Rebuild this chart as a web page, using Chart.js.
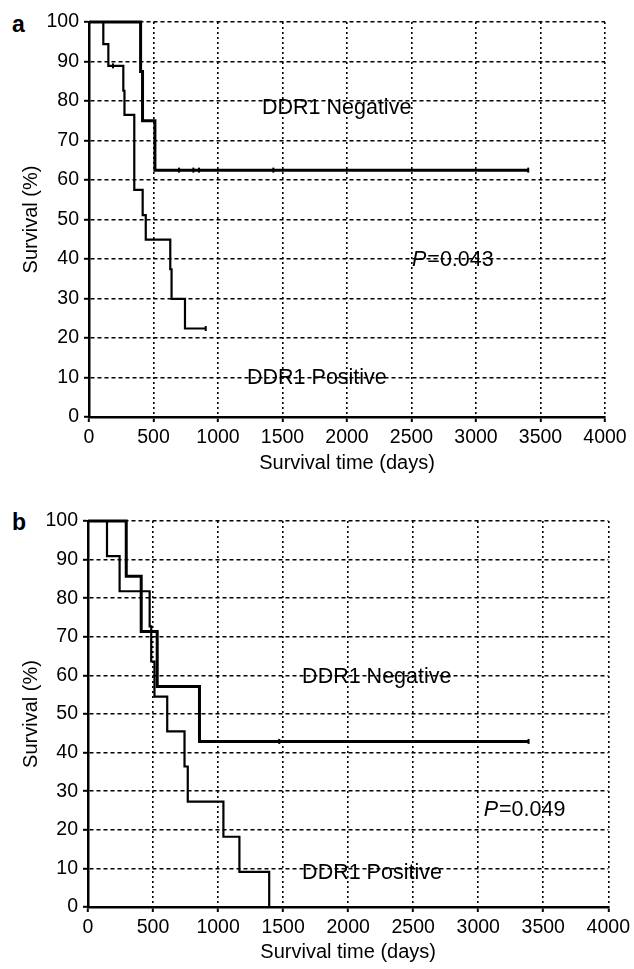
<!DOCTYPE html>
<html>
<head>
<meta charset="utf-8">
<script src="https://cdn.jsdelivr.net/npm/chart.js@4.4.1/dist/chart.umd.min.js"></script>
<style>
body { margin:0; background:#fff; width:634px; height:969px; position:relative; overflow:hidden; font-family:'Liberation Sans', Arial, sans-serif; }
canvas { position:absolute; left:0; }
#chartA { top:0; }
#chartB { top:480px; }
.panel { position:absolute; left:12px; font-weight:bold; font-size:23px; color:#000; }
</style>
</head>
<body>
<div class="panel" style="top:11px">a</div>
<canvas id="chartA" width="634" height="480"></canvas>
<div class="panel" style="top:509px">b</div>
<canvas id="chartB" width="634" height="489"></canvas>
<script>
// panel a - survival steps (days, %)
const negADays = [0, 400, 415, 511, 3405];
const negASurv = [100, 87.5, 75, 62.5, 62.5];
const negACensDays = [698, 809, 853, 1429, 3405];
const negACensSurv = [62.5, 62.5, 62.5, 62.5, 62.5];

const posADays = [0, 111, 150, 266, 275, 351, 416, 440, 630, 640, 744, 905];
const posASurv = [100, 94.4, 88.9, 82.6, 76.5, 57.5, 51.1, 44.9, 37.4, 29.9, 22.4, 22.4];
const posACensDays = [186, 905];
const posACensSurv = [88.9, 22.4];

// panel b
const negBDays = [0, 294, 409, 532, 857, 3387];
const negBSurv = [100, 85.7, 71.4, 57.1, 42.9, 42.9];
const negBCensDays = [1470, 3387];
const negBCensSurv = [42.9, 42.9];

const posBDays = [0, 146, 243, 474, 486, 511, 609, 742, 767, 1041, 1164, 1393];
const posBSurv = [100, 90.9, 81.8, 72.7, 63.6, 54.5, 45.5, 36.4, 27.3, 18.2, 9.1, 0];

const xTickLabels = ['0', '500', '1000', '1500', '2000', '2500', '3000', '3500', '4000'];
const yTickLabels = ['0', '10', '20', '30', '40', '50', '60', '70', '80', '90', '100'];

Chart.defaults.font.family = "'Liberation Sans', Arial, sans-serif";
Chart.defaults.color = '#000';

const toPts = (xs, ys) => xs.map((x, i) => ({x: x, y: ys[i]}));

const stepLine = (xs, ys, w) => ({
    data: toPts(xs, ys),
    stepped: true,
    borderColor: '#000',
    borderWidth: w,
    pointRadius: 0,
    fill: false,
    clip: false
});

const censMarks = (xs, ys) => ({
    data: toPts(xs, ys),
    showLine: false,
    pointStyle: 'line',
    pointRotation: 90,
    pointRadius: 2.5,
    pointBorderWidth: 2,
    borderColor: '#000',
    backgroundColor: '#000',
    clip: false
});

// text labels drawn inside the plot
const notesPlugin = {
    id: 'notes',
    afterDatasetsDraw(chart, args, opts) {
        const ctx = chart.ctx;
        const xs = chart.scales.x, ys = chart.scales.y;
        ctx.save();
        ctx.fillStyle = '#000';
        ctx.textBaseline = 'middle';
        opts.items.forEach((it) => {
            let px = xs.getPixelForValue(it.x);
            const py = ys.getPixelForValue(it.y);
            if (it.p) {
                ctx.font = "italic 21.5px 'Liberation Sans', Arial, sans-serif";
                ctx.fillText('P', px, py);
                px += ctx.measureText('P').width + 1;
            }
            ctx.font = "21.5px 'Liberation Sans', Arial, sans-serif";
            ctx.fillText(it.text, px, py);
        });
        ctx.restore();
    }
};

const makeChart = (id, datasets, notes, lay) => {
    return new Chart(document.getElementById(id), {
        type: 'line',
        data: {datasets: datasets},
        plugins: [notesPlugin],
        options: {
            responsive: false,
            animation: false,
            layout: {padding: {top: lay.top, right: lay.right, left: 0, bottom: 0}},
            plugins: {
                legend: {display: false},
                tooltip: {enabled: false},
                notes: {items: notes}
            },
            scales: {
                x: {
                    type: 'linear',
                    min: 0,
                    max: 4000,
                    afterFit: (s) => { s.height = lay.xh; },
                    ticks: {
                        stepSize: 500,
                        maxRotation: 0,
                        padding: 4,
                        font: {size: 19.5},
                        color: '#000',
                        callback: (v) => xTickLabels[v / 500]
                    },
                    grid: {color: '#000', lineWidth: 1.6, tickLength: 5, tickColor: '#000', tickWidth: 2},
                    border: {display: true, color: '#000', width: 2.5, dash: [2, 3]},
                    title: {display: true, text: 'Survival time (days)', font: {size: 20}, color: '#000', padding: {top: 0, bottom: 5}}
                },
                y: {
                    min: 0,
                    max: 100,
                    afterFit: (s) => { s.width = lay.yw; },
                    ticks: {
                        stepSize: 10,
                        padding: 5,
                        font: {size: 19.5},
                        color: '#000',
                        callback: (v) => yTickLabels[v / 10]
                    },
                    grid: {color: '#000', lineWidth: 1.6, tickLength: 5, tickColor: '#000', tickWidth: 2},
                    border: {display: true, color: '#000', width: 2.5, dash: [4, 3]},
                    title: {display: true, text: 'Survival (%)', font: {size: 20}, color: '#000', padding: {top: 19, bottom: 0}}
                }
            }
        }
    });
};

makeChart('chartA', [
    stepLine(negADays, negASurv, 3),
    stepLine(posADays, posASurv, 2.2),
    censMarks(negACensDays, negACensSurv),
    censMarks(posACensDays, posACensSurv)
], [
    {text: 'DDR1 Negative', x: 1341, y: 78.2},
    {text: '=0.043', x: 2504, y: 39.7, p: true},
    {text: 'DDR1 Positive', x: 1225, y: 9.9}
], {top: 22, right: 29, xh: 63, yw: 89});

makeChart('chartB', [
    stepLine(negBDays, negBSurv, 3),
    stepLine(posBDays, posBSurv, 2.2),
    censMarks(negBCensDays, negBCensSurv)
], [
    {text: 'DDR1 Negative', x: 1646, y: 59.6},
    {text: '=0.049', x: 3042, y: 25.1, p: true},
    {text: 'DDR1 Positive', x: 1646, y: 8.7}
], {top: 41, right: 24, xh: 62, yw: 88});
</script>
</body>
</html>
